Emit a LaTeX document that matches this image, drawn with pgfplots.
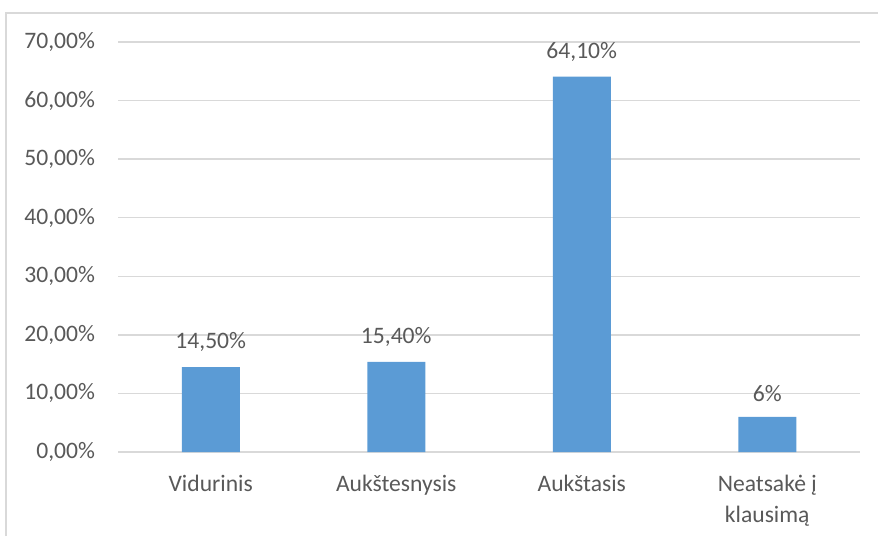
\documentclass[border=0pt]{standalone}
\usepackage{fontspec}
\setmainfont{Carlito}
\usepackage{pgfplots}
\pgfplotsset{compat=1.18}
\definecolor{barblue}{HTML}{5B9BD5}
\definecolor{gridgray}{HTML}{D9D9D9}
\definecolor{textgray}{HTML}{595959}
\begin{document}
\begin{tikzpicture}
\useasboundingbox (0,0) rectangle (439pt,268pt);
% chart frame (left and top edges)
\draw[gridgray, line width=0.75pt] (3pt,0) -- (3pt,261.5pt) -- (439pt,261.5pt);
\begin{axis}[
  at={(59pt,42pt)}, anchor=south west,
  scale only axis, width=371pt, height=205pt,
  xmin=-0.5, xmax=3.5, ymin=0, ymax=70,
  ytick={0,10,...,70},
  yticklabels={{0,00\%},{10,00\%},{20,00\%},{30,00\%},{40,00\%},{50,00\%},{60,00\%},{70,00\%}},
  xtick={0,1,2,3},
  xticklabels={Vidurinis, Aukštesnysis, Aukštasis, {Neatsakė į\\klausimą}},
  xticklabel style={align=center, yshift=-8pt},
  yticklabel style={xshift=-8pt},
  every tick label/.append style={font=\fontsize{11.8}{15.3}\selectfont, text=textgray},
  major tick length=0pt,
  axis line style={draw=none},
  ymajorgrids, grid style={gridgray, line width=0.75pt},
  clip=false,
]
\addplot[ybar, bar width=29pt, fill=barblue, draw=none,
  point meta=explicit symbolic,
  nodes near coords,
  every node near coord/.append style={font=\fontsize{11.8}{15}\selectfont, text=textgray, anchor=south, yshift=4pt}]
  coordinates {
    (0,14.5) [14,50\%]
    (1,15.4) [15,40\%]
    (2,64.1) [64,10\%]
    (3,6.0)  [6\%]
  };
\end{axis}
\end{tikzpicture}
\end{document}
